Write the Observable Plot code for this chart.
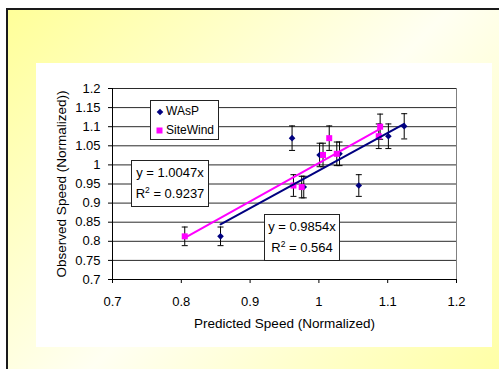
<!DOCTYPE html>
<html>
<head>
<meta charset="utf-8">
<script src="https://cdn.jsdelivr.net/npm/d3@7"></script>
<script src="https://cdn.jsdelivr.net/npm/@observablehq/plot@0.6"></script>
<style>
  html, body { margin: 0; padding: 0; background: #fff; }
  #page { position: relative; width: 499px; height: 369px; overflow: hidden; font-family: "Liberation Sans", Arial, sans-serif; }
  #slide { position: absolute; left: 6px; top: 8px; width: 520px; height: 400px;
           border-left: 2px solid #1a1a1a; border-top: 2px solid #1a1a1a;
           background: linear-gradient(135deg, #ffff99 0%, #fffff2 48%, #ffff99 100%); }
  #panel { position: absolute; left: 36px; top: 63px; width: 456px; height: 284px; background: #fff; }
  .box { position: absolute; background: #fff; border: 1px solid #222; box-sizing: border-box; color: #000; }
  .eq { font-size: 13px; line-height: 20.5px; text-align: center; padding-top: 2px; }
  .sup { font-size: 8.5px; position: relative; top: -5px; }
  .leg { font-size: 12px; }
  .leg .item { position: absolute; left: 15px; line-height: 14px; }
  .leg .mk { position: absolute; }
</style>
</head>
<body>
<div id="page">
  <div id="slide"></div>
  <div id="panel"></div>
</div>
<script>
// ---- data ----
const waspX = [0.857, 0.961, 0.978, 1.001, 1.030, 1.058, 1.101, 1.124];
const waspY = [0.813, 1.070, 0.942, 1.026, 1.029, 0.946, 1.075, 1.101];
const siteX = [0.805, 0.963, 0.975, 1.006, 1.015, 1.026, 1.087, 1.089];
const siteY = [0.813, 0.946, 0.942, 1.026, 1.070, 1.029, 1.075, 1.100];
const errorPercent = 3; // percentage error bars
const seriesNames = ["WAsP", "SiteWind"];
const waspSlope = 0.9854, waspR2 = "0.564";
const siteSlope = 1.0047, siteR2 = "0.9237";
const xTicks = [0.7, 0.8, 0.9, 1, 1.1, 1.2];
const yTicks = [0.7, 0.75, 0.8, 0.85, 0.9, 0.95, 1, 1.05, 1.1, 1.15, 1.2];
const xLabel = "Predicted Speed (Normalized)";
const yLabel = "Observed Speed (Normalized))";

// ---- build tables ----
const wasp = waspX.map((x, i) => ({x, y: waspY[i]}));
const site = siteX.map((x, i) => ({x, y: siteY[i]}));
const all = wasp.concat(site).map(d => ({...d, lo: d.y * (1 - errorPercent / 100), hi: d.y * (1 + errorPercent / 100)}));
function trend(pts, slope) {
  const [a, b] = d3.extent(pts, d => d.x);
  return [{x: a, y: slope * a}, {x: b, y: slope * b}];
}
const capSym = {draw(ctx) { ctx.moveTo(-3, 0); ctx.lineTo(3, 0); }};
const diamondSym = {draw(ctx) { const r = 3.3; ctx.moveTo(0, -r); ctx.lineTo(r, 0); ctx.lineTo(0, r); ctx.lineTo(-r, 0); ctx.closePath(); }};
const squareSym = {draw(ctx) { ctx.rect(-3, -3, 6, 6); }};

const chart = Plot.plot({
  width: 456,
  height: 284,
  marginLeft: 76,
  marginRight: 36,
  marginTop: 25,
  marginBottom: 68,
  style: {fontFamily: "'Liberation Sans', Arial, sans-serif", fontSize: "13px", background: "white", color: "black", overflow: "visible"},
  x: {domain: [0.7, 1.2], ticks: xTicks, tickSize: 4, tickPadding: 13, tickFormat: d => String(d), label: null},
  y: {domain: [0.7, 1.2], ticks: yTicks, tickSize: 4, tickPadding: 8, tickFormat: d => String(d), label: null},
  marks: [
    Plot.ruleY(yTicks.slice(1), {stroke: "#2a2a2a", strokeWidth: 1}),
    Plot.ruleX([1.2], {stroke: "#808080", strokeWidth: 1}),
    Plot.ruleX([0.7], {stroke: "#000", strokeWidth: 1}),
    Plot.ruleY([0.7], {stroke: "#000", strokeWidth: 1}),
    Plot.ruleX(all, {x: "x", y1: "lo", y2: "hi", stroke: "#000", strokeWidth: 1}),
    Plot.dot(all, {x: "x", y: "lo", symbol: capSym, stroke: "#000", fill: "none", strokeWidth: 1}),
    Plot.dot(all, {x: "x", y: "hi", symbol: capSym, stroke: "#000", fill: "none", strokeWidth: 1}),
    Plot.dot(wasp, {x: "x", y: "y", symbol: diamondSym, fill: "#000080", stroke: "none"}),
    Plot.dot(site, {x: "x", y: "y", symbol: squareSym, fill: "#ff00ff", stroke: "none"}),
    Plot.line(trend(site, siteSlope), {x: "x", y: "y", stroke: "#ff00ff", strokeWidth: 2}),
    Plot.line(trend(wasp, waspSlope), {x: "x", y: "y", stroke: "#000080", strokeWidth: 2}),
    Plot.text([xLabel], {frameAnchor: "bottom", dy: 44, text: d => d, textAnchor: "middle", lineAnchor: "middle", fontSize: 13.5, fill: "#000"}),
    Plot.text([yLabel], {frameAnchor: "left", dx: -51, text: d => d, rotate: -90, textAnchor: "middle", lineAnchor: "middle", fontSize: 13.5, fill: "#000"})
  ]
});
document.getElementById("panel").appendChild(chart);

// ---- overlays: legend and trendline labels ----
const page = document.getElementById("page");
function eqBox(left, top, w, h, slope, r2) {
  const d = document.createElement("div");
  d.className = "box eq";
  Object.assign(d.style, {left: left + "px", top: top + "px", width: w + "px", height: h + "px"});
  d.innerHTML = `<div>y = ${slope}x</div><div>R<span class="sup">2</span> = ${r2}</div>`;
  page.appendChild(d);
}
eqBox(131, 160, 78, 47, siteSlope, siteR2);
eqBox(264, 214, 76, 47, waspSlope, waspR2);

const leg = document.createElement("div");
leg.className = "box leg";
Object.assign(leg.style, {left: "150px", top: "100px", width: "69px", height: "40px"});
leg.innerHTML = `
  <svg class="mk" style="left:5px;top:7px" width="8" height="8"><path d="M4,0.7L7.3,4L4,7.3L0.7,4Z" fill="#000080"/></svg>
  <div class="item" style="top:3px">${seriesNames[0]}</div>
  <svg class="mk" style="left:5px;top:26px" width="7" height="7"><rect x="0.5" y="0.5" width="6" height="6" fill="#ff00ff"/></svg>
  <div class="item" style="top:22px">${seriesNames[1]}</div>`;
page.appendChild(leg);
</script>
</body>
</html>
